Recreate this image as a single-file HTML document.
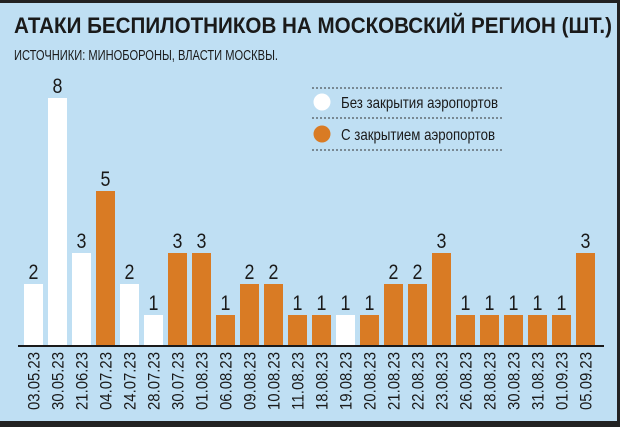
<!DOCTYPE html>
<html><head><meta charset="utf-8"><style>
body{margin:0;width:620px;height:427px;overflow:hidden;background:#bfdff3;font-family:"Liberation Sans",sans-serif}
</style></head><body>
<svg width="620" height="427" style="display:block">
<rect x="0" y="0" width="620" height="427" fill="#bfdff3"/>
<rect x="0" y="0" width="620" height="3" fill="#222"/>
<rect x="0" y="421" width="620" height="6" fill="#222"/>
<rect x="617" y="0" width="3" height="427" fill="#222"/>
<text x="14" y="33" font-size="22" font-weight="bold" fill="#1a1a1a" textLength="598" lengthAdjust="spacingAndGlyphs">АТАКИ БЕСПИЛОТНИКОВ НА МОСКОВСКИЙ РЕГИОН (ШТ.)</text>
<text x="14" y="60" font-size="15" fill="#1a1a1a" textLength="264" lengthAdjust="spacingAndGlyphs">ИСТОЧНИКИ: МИНОБОРОНЫ, ВЛАСТИ МОСКВЫ.</text>
<g>
<line x1="312" y1="88" x2="502" y2="88" stroke="#333" stroke-dasharray="2,2"/>
<line x1="312" y1="118" x2="502" y2="118" stroke="#333" stroke-dasharray="2,2"/>
<line x1="312" y1="150" x2="502" y2="150" stroke="#333" stroke-dasharray="2,2"/>
<circle cx="322" cy="102" r="8.5" fill="#fff"/>
<circle cx="322" cy="134" r="8.5" fill="#d97b24"/>
<text x="341" y="108" font-size="16" fill="#1a1a1a" textLength="157" lengthAdjust="spacingAndGlyphs">Без закрытия аэропортов</text>
<text x="341" y="140" font-size="16" fill="#1a1a1a" textLength="154" lengthAdjust="spacingAndGlyphs">С закрытием аэропортов</text>
</g>
<g id="bars"></g>
<line x1="18" y1="346" x2="604" y2="346" stroke="#1a1a1a" stroke-width="2"/>
</svg>
<script>
const categories=["03.05.23","30.05.23","21.06.23","04.07.23","24.07.23","28.07.23","30.07.23","01.08.23","06.08.23","09.08.23","10.08.23","11.08.23","18.08.23","19.08.23","20.08.23","21.08.23","22.08.23","23.08.23","26.08.23","28.08.23","30.08.23","31.08.23","01.09.23","05.09.23"];
const values=[2,8,3,5,2,1,3,3,1,2,2,1,1,1,1,2,2,3,1,1,1,1,1,3];
const airportClosed=[0,0,0,1,0,0,1,1,1,1,1,1,1,0,1,1,1,1,1,1,1,1,1,1];
const NS="http://www.w3.org/2000/svg";
const g=document.getElementById("bars");
const base=346, unit=31, x0=24, pitch=24, bw=19;
const xs=i=>x0+i*pitch;
const ys=v=>base-v*unit;
categories.forEach((c,i)=>{
  const v=values[i];
  const r=document.createElementNS(NS,"rect");
  r.setAttribute("x",xs(i));r.setAttribute("y",ys(v));r.setAttribute("width",bw);r.setAttribute("height",base-ys(v));
  r.setAttribute("fill",airportClosed[i]?"#d97b24":"#ffffff");
  
  
  g.appendChild(r);
  const t=document.createElementNS(NS,"text");
  t.setAttribute("x",xs(i)+bw/2);t.setAttribute("y",ys(v)-5);t.setAttribute("text-anchor","middle");
  t.setAttribute("font-size","21");t.setAttribute("fill","#1a1a1a");
  t.setAttribute("transform","translate("+(xs(i)+bw/2)+",0) scale(0.85,1) translate("+(-(xs(i)+bw/2))+",0)");
  t.textContent=v;
  
  
  g.appendChild(t);
  const l=document.createElementNS(NS,"text");
  const cx=xs(i)+bw/2+6;
  l.setAttribute("transform","translate("+cx+",352) rotate(-90)");
  l.setAttribute("x",0);l.setAttribute("y",0);l.setAttribute("text-anchor","end");
  l.setAttribute("font-size","17");l.setAttribute("fill","#1a1a1a");
  l.setAttribute("textLength","58");l.setAttribute("lengthAdjust","spacingAndGlyphs");
  l.textContent=c;
  
  
  g.appendChild(l);
});
</script>
</body></html>
